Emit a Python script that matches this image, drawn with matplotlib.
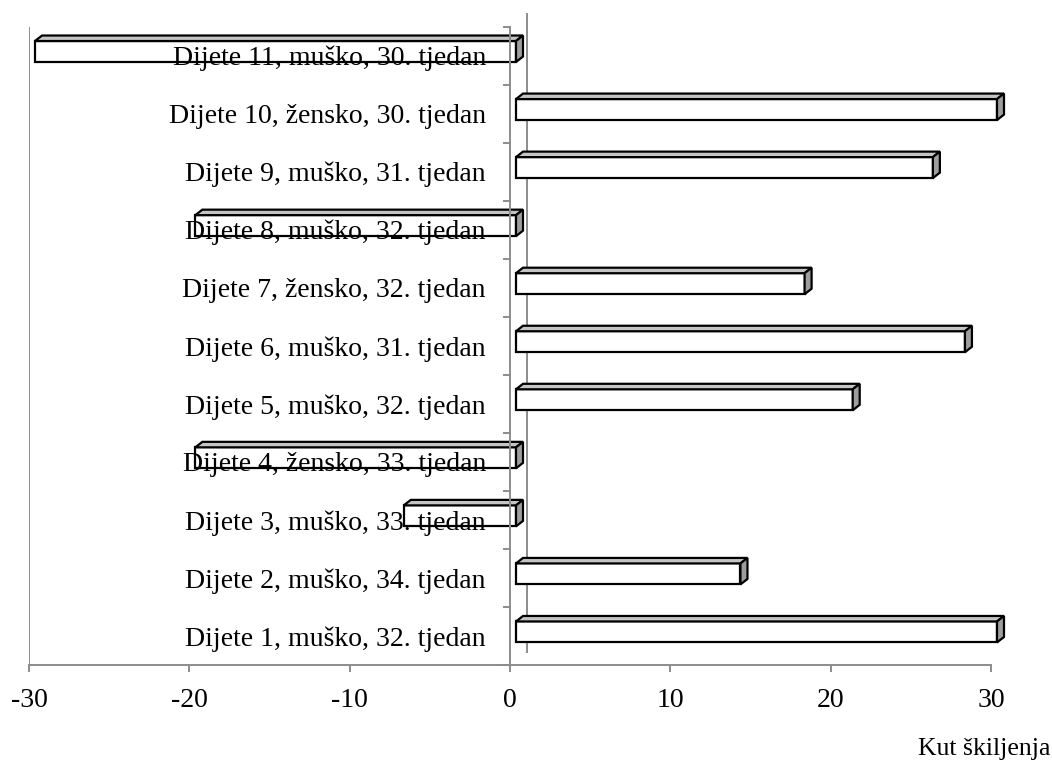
import matplotlib
matplotlib.use('Agg')
import matplotlib.pyplot as plt
from matplotlib.patches import Polygon
from matplotlib.transforms import ScaledTranslation

# categories, bottom to top
djeca = ['Dijete 1, muško, 32. tjedan',
         'Dijete 2, muško, 34. tjedan',
         'Dijete 3, muško, 33. tjedan',
         'Dijete 4, žensko, 33. tjedan',
         'Dijete 5, muško, 32. tjedan',
         'Dijete 6, muško, 31. tjedan',
         'Dijete 7, žensko, 32. tjedan',
         'Dijete 8, muško, 32. tjedan',
         'Dijete 9, muško, 31. tjedan',
         'Dijete 10, žensko, 30. tjedan',
         'Dijete 11, muško, 30. tjedan']
kut = [30, 14, -7, -20, 21, 28, 18, -20, 26, 30, -30]
x_ticks = [-30, -20, -10, 0, 10, 20, 30]
x_labels = ['-30', '-20', '-10', '0', '10', '20', '30']

plt.rcParams['font.family'] = ['Liberation Serif', 'DejaVu Serif']

W, H = 1052, 762
fig = plt.figure(figsize=(W / 100, H / 100), dpi=100)
ax_w, ax_h = 962, 638.5
ax = fig.add_axes([29 / W, 97 / H, ax_w / W, ax_h / H])
ax.set_xlim(-30, 30)
ax.set_ylim(-0.5, 10.5)

gray = '#8c8c8c'
px = 60 / ax_w      # data units per pixel, x
py = 11 / ax_h      # data units per pixel, y

# 3d bar look (Excel style)
shift_x, shift_y = 6 * px, 4 * py
dx, dy = 7 * px, 5.5 * py
h = 21 * py
lw = 1.6
ys = [i + shift_y for i in range(len(kut))]

bars = ax.barh(ys, kut, height=h, left=shift_x, color='white',
               edgecolor='black', linewidth=lw, zorder=1)
for b in bars:
    b.set_clip_on(False)
for y, v in zip(ys, kut):
    x0 = shift_x + min(0, v)
    x1 = shift_x + max(0, v)
    yt = y + h / 2
    yb = y - h / 2
    top = Polygon([(x0, yt), (x1, yt), (x1 + dx, yt + dy), (x0 + dx, yt + dy)],
                  closed=True, facecolor='#c4c4c4', edgecolor='black',
                  linewidth=lw, zorder=1, clip_on=False)
    side = Polygon([(x1, yb), (x1, yt), (x1 + dx, yt + dy), (x1 + dx, yb + dy)],
                   closed=True, facecolor='#9e9e9e', edgecolor='black',
                   linewidth=lw, zorder=1, clip_on=False)
    ax.add_patch(top)
    ax.add_patch(side)

# back wall line at zero
back = ax.transData + ScaledTranslation(17 / 100, 13 / 100, fig.dpi_scale_trans)
ax.plot([0, 0], [-0.5, 10.5], color=gray, lw=1.4, transform=back,
        zorder=0.5, clip_on=False)
# left edge line
ax.vlines(-30, -0.5, 10.5, color=gray, lw=1.4, zorder=0.5)

for s in ['top', 'right']:
    ax.spines[s].set_visible(False)
ax.spines['left'].set_position(('data', 0))
for s in ['left', 'bottom']:
    ax.spines[s].set_color(gray)
    ax.spines[s].set_linewidth(1.4)

ax.set_xticks(x_ticks, x_labels)
ax.tick_params(axis='x', length=5, width=1.4, color=gray, pad=11.5,
               labelsize=20)
ax.set_yticks(range(len(djeca)), djeca)
ax.set_yticks([i - 0.5 for i in range(len(djeca) + 1)], minor=True)
ax.tick_params(axis='y', which='major', length=0, pad=17.3, labelsize=20)
ax.tick_params(axis='y', which='minor', length=5, width=1.4, color=gray)

fig.text(1050 / W, (762 - 755) / H, 'Kut škiljenja', ha='right',
         va='baseline', fontsize=18.5)

fig.savefig('out.png', dpi=100)
